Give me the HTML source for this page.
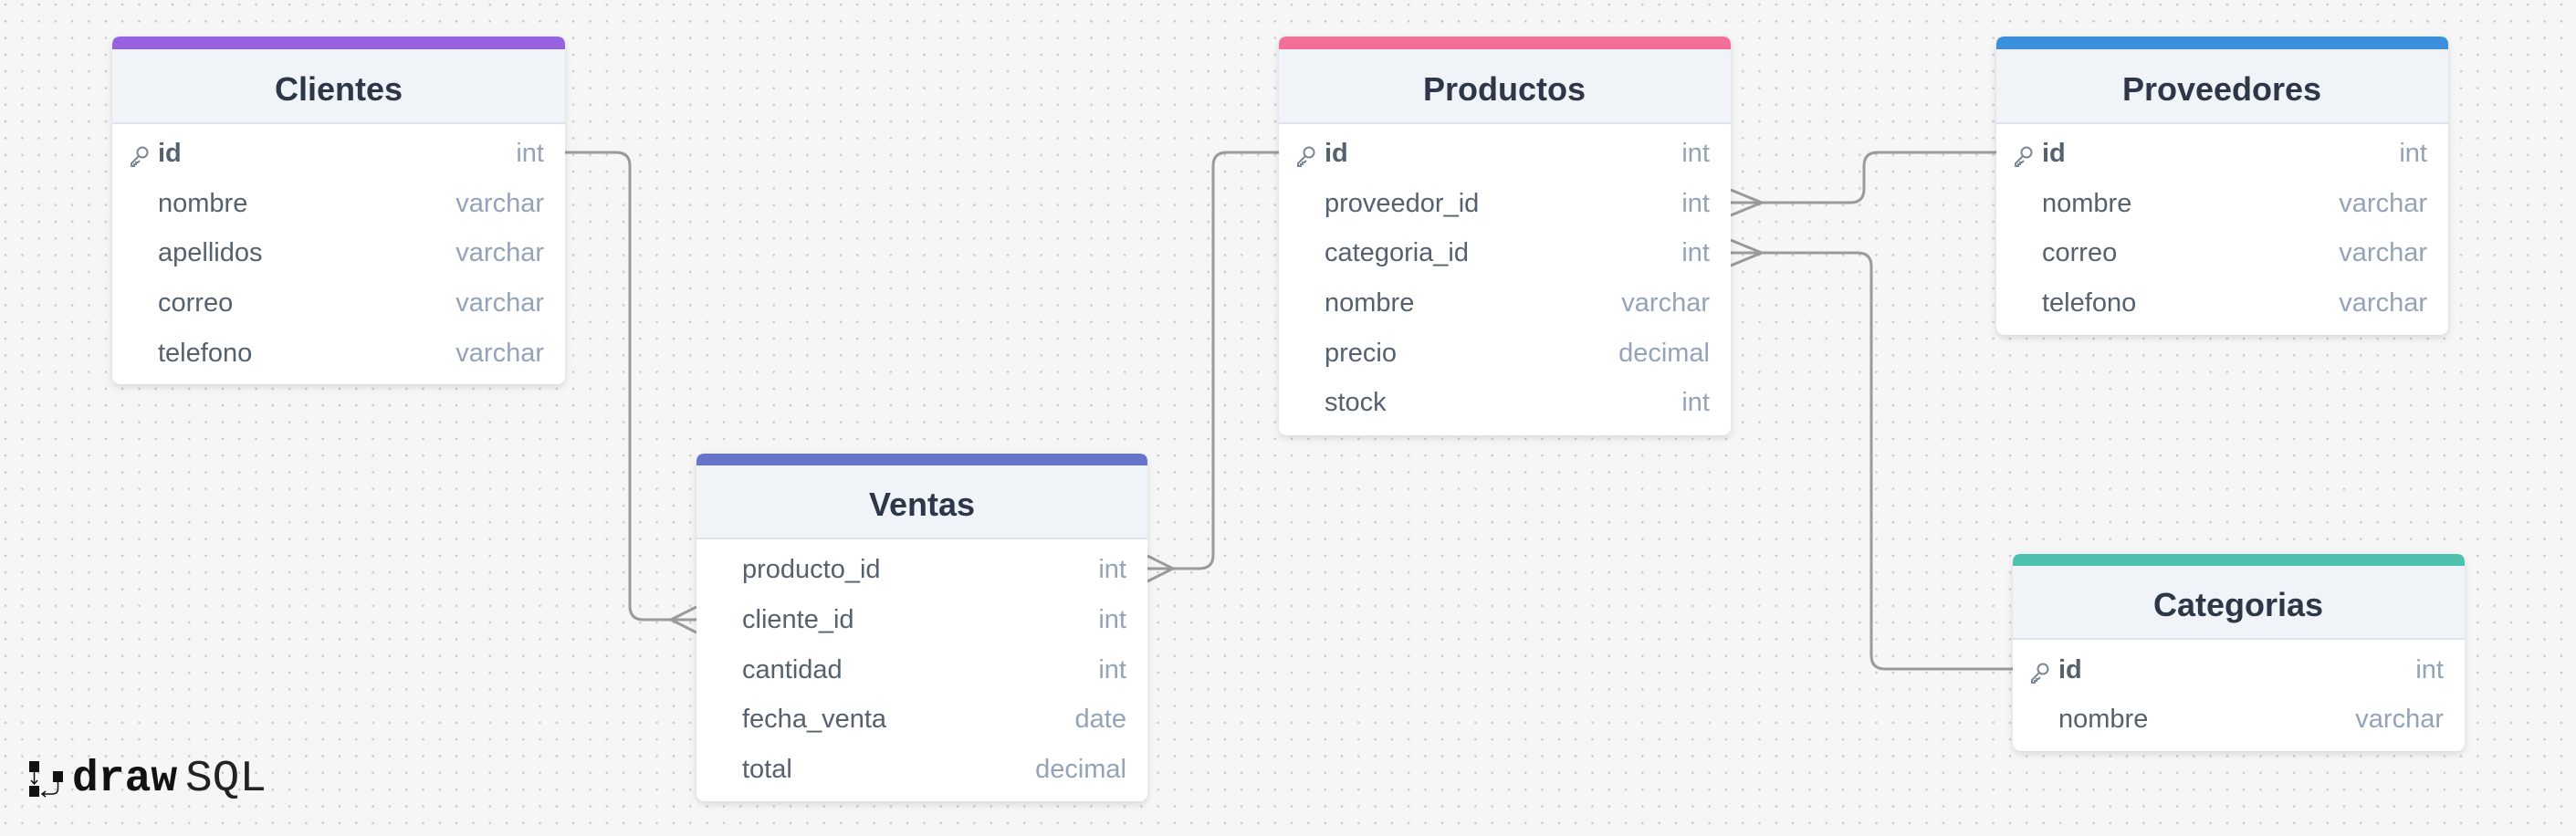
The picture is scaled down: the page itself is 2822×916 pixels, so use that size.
<!DOCTYPE html>
<html><head><meta charset="utf-8"><style>
html,body{margin:0;padding:0;background:#f6f6f6;}
svg{display:block}
.t{font-family:"Liberation Sans",sans-serif;font-weight:bold;font-size:36px;fill:#2d3748}
.f{font-family:"Liberation Sans",sans-serif;font-size:29px;fill:#55616f}
.fb{font-family:"Liberation Sans",sans-serif;font-size:29px;fill:#55616f;font-weight:bold}
.ty{font-family:"Liberation Sans",sans-serif;font-size:29px;fill:#94a3b8}
.ln{fill:none;stroke:#9a9a9a;stroke-width:3}
</style></head><body>
<svg width="2822" height="916" viewBox="0 0 2822 916" xmlns="http://www.w3.org/2000/svg">
<defs>
<pattern id="dots" x="4" y="3" width="18.3" height="18.3" patternUnits="userSpaceOnUse">
<circle cx="2" cy="2" r="1.3" fill="#c8c8c8"/>
</pattern>
<filter id="sh" x="-5%" y="-5%" width="110%" height="115%"><feDropShadow dx="0" dy="3" stdDeviation="4" flood-color="#000" flood-opacity="0.13"/></filter>
<g id="key"><g fill="none" stroke="#7b8794" stroke-width="2"><circle cx="13" cy="-5" r="5.5"/><path d="M9 -1 L1 7 L1 10 L4 10 L4 8 L6 8 L6 6 L8 6 L10 4"/></g></g>
</defs>
<rect width="2822" height="916" fill="#f6f6f6"/>
<rect width="2822" height="916" fill="url(#dots)"/>

<!-- connectors -->
<path class="ln" d="M619 167 H675 Q690 167 690 182 V664 Q690 679 705 679 H763"/>
<path class="ln" d="M735 679 L763 665 M735 679 L763 693"/>
<path class="ln" d="M1257 623 H1314 Q1329 623 1329 608 V182 Q1329 167 1344 167 H1401"/>
<path class="ln" d="M1285 623 L1257 609 M1285 623 L1257 637"/>
<path class="ln" d="M1896 222 H2027 Q2042 222 2042 207 V182 Q2042 167 2057 167 H2187"/>
<path class="ln" d="M1930 222 L1896 208 M1930 222 L1896 236"/>
<path class="ln" d="M1896 277 H2035 Q2050 277 2050 292 V718 Q2050 733 2065 733 H2205"/>
<path class="ln" d="M1930 277 L1896 263 M1930 277 L1896 291"/>

<!-- Clientes -->
<g filter="url(#sh)"><rect x="123" y="40" width="496" height="381" rx="9" fill="#fff"/></g>
<path d="M123 135 V49 Q123 40 132 40 H610 Q619 40 619 49 V135 Z" fill="#f0f3f8"/>
<path d="M123 54 V49 Q123 40 132 40 H610 Q619 40 619 49 V54 Z" fill="#9762e0"/>
<line x1="123" y1="135" x2="619" y2="135" stroke="#dde3ec" stroke-width="2"/>
<text class="t" x="371" y="110" text-anchor="middle">Clientes</text>
<use href="#key" x="143" y="172"/>
<text class="fb" x="173" y="177">id</text><text class="ty" x="596" y="177" text-anchor="end">int</text>
<text class="f" x="173" y="232">nombre</text><text class="ty" x="596" y="232" text-anchor="end">varchar</text>
<text class="f" x="173" y="286">apellidos</text><text class="ty" x="596" y="286" text-anchor="end">varchar</text>
<text class="f" x="173" y="341">correo</text><text class="ty" x="596" y="341" text-anchor="end">varchar</text>
<text class="f" x="173" y="396">telefono</text><text class="ty" x="596" y="396" text-anchor="end">varchar</text>

<!-- Ventas -->
<g filter="url(#sh)"><rect x="763" y="497" width="494" height="381" rx="9" fill="#fff"/></g>
<path d="M763 590 V506 Q763 497 772 497 H1248 Q1257 497 1257 506 V590 Z" fill="#f0f3f8"/>
<path d="M763 510 V506 Q763 497 772 497 H1248 Q1257 497 1257 506 V510 Z" fill="#6674cc"/>
<line x1="763" y1="590" x2="1257" y2="590" stroke="#dde3ec" stroke-width="2"/>
<text class="t" x="1010" y="565" text-anchor="middle">Ventas</text>
<text class="f" x="813" y="633">producto_id</text><text class="ty" x="1234" y="633" text-anchor="end">int</text>
<text class="f" x="813" y="688">cliente_id</text><text class="ty" x="1234" y="688" text-anchor="end">int</text>
<text class="f" x="813" y="743">cantidad</text><text class="ty" x="1234" y="743" text-anchor="end">int</text>
<text class="f" x="813" y="797">fecha_venta</text><text class="ty" x="1234" y="797" text-anchor="end">date</text>
<text class="f" x="813" y="852">total</text><text class="ty" x="1234" y="852" text-anchor="end">decimal</text>

<!-- Productos -->
<g filter="url(#sh)"><rect x="1401" y="40" width="495" height="437" rx="9" fill="#fff"/></g>
<path d="M1401 135 V49 Q1401 40 1410 40 H1887 Q1896 40 1896 49 V135 Z" fill="#f0f3f8"/>
<path d="M1401 54 V49 Q1401 40 1410 40 H1887 Q1896 40 1896 49 V54 Z" fill="#f46f97"/>
<line x1="1401" y1="135" x2="1896" y2="135" stroke="#dde3ec" stroke-width="2"/>
<text class="t" x="1648" y="110" text-anchor="middle">Productos</text>
<use href="#key" x="1421" y="172"/>
<text class="fb" x="1451" y="177">id</text><text class="ty" x="1873" y="177" text-anchor="end">int</text>
<text class="f" x="1451" y="232">proveedor_id</text><text class="ty" x="1873" y="232" text-anchor="end">int</text>
<text class="f" x="1451" y="286">categoria_id</text><text class="ty" x="1873" y="286" text-anchor="end">int</text>
<text class="f" x="1451" y="341">nombre</text><text class="ty" x="1873" y="341" text-anchor="end">varchar</text>
<text class="f" x="1451" y="396">precio</text><text class="ty" x="1873" y="396" text-anchor="end">decimal</text>
<text class="f" x="1451" y="450">stock</text><text class="ty" x="1873" y="450" text-anchor="end">int</text>

<!-- Proveedores -->
<g filter="url(#sh)"><rect x="2187" y="40" width="495" height="327" rx="9" fill="#fff"/></g>
<path d="M2187 135 V49 Q2187 40 2196 40 H2673 Q2682 40 2682 49 V135 Z" fill="#f0f3f8"/>
<path d="M2187 54 V49 Q2187 40 2196 40 H2673 Q2682 40 2682 49 V54 Z" fill="#3a90dc"/>
<line x1="2187" y1="135" x2="2682" y2="135" stroke="#dde3ec" stroke-width="2"/>
<text class="t" x="2434" y="110" text-anchor="middle">Proveedores</text>
<use href="#key" x="2207" y="172"/>
<text class="fb" x="2237" y="177">id</text><text class="ty" x="2659" y="177" text-anchor="end">int</text>
<text class="f" x="2237" y="232">nombre</text><text class="ty" x="2659" y="232" text-anchor="end">varchar</text>
<text class="f" x="2237" y="286">correo</text><text class="ty" x="2659" y="286" text-anchor="end">varchar</text>
<text class="f" x="2237" y="341">telefono</text><text class="ty" x="2659" y="341" text-anchor="end">varchar</text>

<!-- Categorias -->
<g filter="url(#sh)"><rect x="2205" y="607" width="495" height="216" rx="9" fill="#fff"/></g>
<path d="M2205 700 V616 Q2205 607 2214 607 H2691 Q2700 607 2700 616 V700 Z" fill="#f0f3f8"/>
<path d="M2205 620 V616 Q2205 607 2214 607 H2691 Q2700 607 2700 616 V620 Z" fill="#4dc0ae"/>
<line x1="2205" y1="700" x2="2700" y2="700" stroke="#dde3ec" stroke-width="2"/>
<text class="t" x="2452" y="675" text-anchor="middle">Categorias</text>
<use href="#key" x="2225" y="738"/>
<text class="fb" x="2255" y="743">id</text><text class="ty" x="2677" y="743" text-anchor="end">int</text>
<text class="f" x="2255" y="797">nombre</text><text class="ty" x="2677" y="797" text-anchor="end">varchar</text>

<!-- logo -->
<g fill="#111">
<rect x="32" y="834" width="11" height="12"/>
<rect x="32" y="861" width="11" height="12"/>
<rect x="58" y="845" width="11" height="12"/>
<path d="M37.5 846 V858 M34 855 L37.5 859 L41 855" stroke="#111" stroke-width="1.5" fill="none"/>
<path d="M63.5 857 V864 Q63.5 870 57 870 H47 M50 867 L46 870 L50 873" stroke="#111" stroke-width="1.5" fill="none"/>
</g>
<text x="79" y="866" font-family="Liberation Mono, monospace" font-weight="bold" font-size="48" fill="#111">draw</text>
<text x="203" y="866" font-family="Liberation Mono, monospace" font-size="48" fill="#222" textLength="89" lengthAdjust="spacingAndGlyphs">SQL</text>
</svg>
</body></html>
